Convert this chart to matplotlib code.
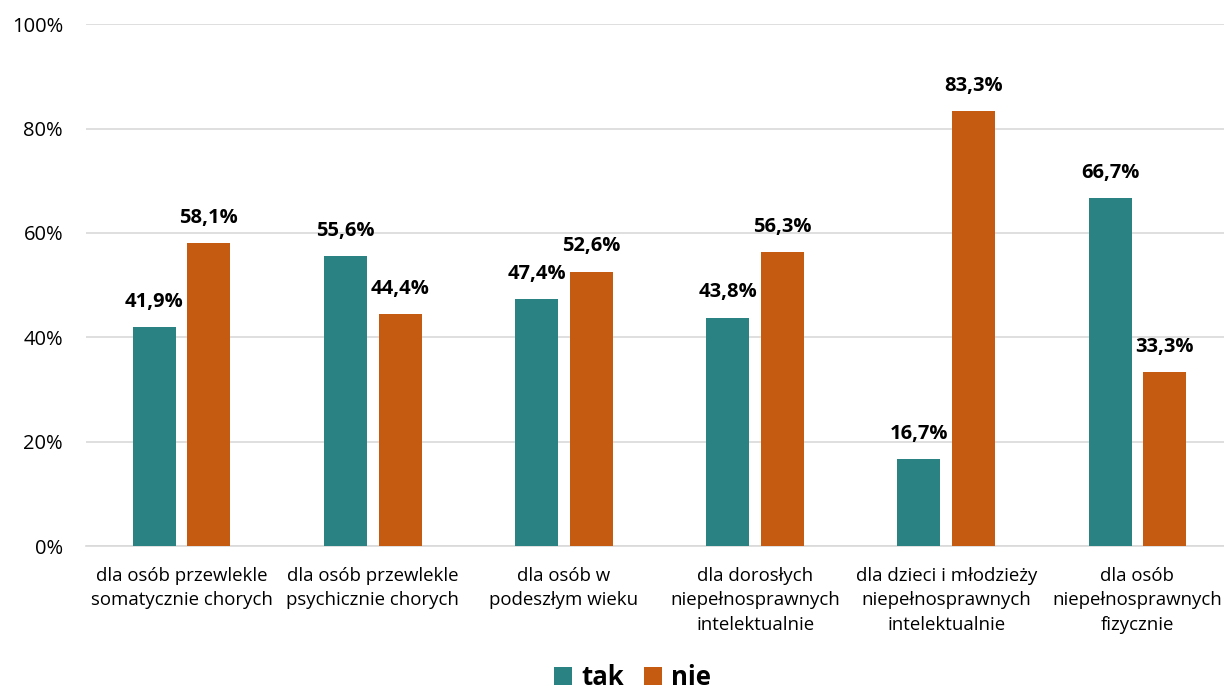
import numpy as np
import matplotlib.pyplot as plt
from matplotlib.ticker import FuncFormatter

plt.rcParams['font.family'] = ['Open Sans', 'DejaVu Sans']

# dane
kategorie = ['dla osób przewlekle\nsomatycznie chorych',
             'dla osób przewlekle\npsychicznie chorych',
             'dla osób w\npodeszłym wieku',
             'dla dorosłych\nniepełnosprawnych\nintelektualnie',
             'dla dzieci i młodzieży\nniepełnosprawnych\nintelektualnie',
             'dla osób\nniepełnosprawnych\nfizycznie']
tak = [41.9, 55.6, 47.4, 43.8, 16.7, 66.7]
nie = [58.1, 44.4, 52.6, 56.3, 83.3, 33.3]

kolor_tak = '#2b8283'
kolor_nie = '#c55a11'

fig = plt.figure(figsize=(12.24, 6.93), dpi=100)
# plot area runs slightly past the right edge, as in the reference
ax = fig.add_axes([86 / 1224, 0.212, 1147 / 1224, 0.753])

x = np.arange(len(kategorie))
w = 0.225
off = 0.1426
b1 = ax.bar(x - off, tak, w, color=kolor_tak, label='tak', zorder=3)
b2 = ax.bar(x + off, nie, w, color=kolor_nie, label='nie', zorder=3)

for bars, vals in ((b1, tak), (b2, nie)):
    for b, v in zip(bars, vals):
        ax.text(b.get_x() + b.get_width() / 2, v + 2.9,
                f'{v:.1f}%'.replace('.', ','), ha='center', va='bottom',
                fontsize=14.5, fontweight='bold', color='black')

ax.set_xlim(-0.5, len(kategorie) - 0.5)
ax.set_ylim(0, 100)
ax.set_yticks(np.arange(0, 101, 20))
ax.yaxis.set_major_formatter(FuncFormatter(lambda v, p: f'{v:.0f}%'))
ax.grid(axis='y', color='#d9d9d9', linewidth=1.2, zorder=0)
ax.set_xticks(x)
ax.set_xticklabels(kategorie, fontsize=13.4, linespacing=1.47)
ax.tick_params(axis='y', length=0, labelsize=14.5, pad=16.5)
ax.tick_params(axis='x', length=0, pad=15)
for s in ('top', 'right', 'left'):
    ax.spines[s].set_visible(False)
ax.spines['bottom'].set_color('#d9d9d9')
ax.spines['bottom'].set_linewidth(1.2)

fig.legend(handles=[b1, b2], loc='center', bbox_to_anchor=(0.517, 0.022),
           ncol=2, frameon=False, prop={'size': 18.5, 'weight': 'bold'},
           handlelength=0.7, handleheight=0.7, handletextpad=0.35, columnspacing=0.8)

plt.savefig('out.png', dpi=100)
